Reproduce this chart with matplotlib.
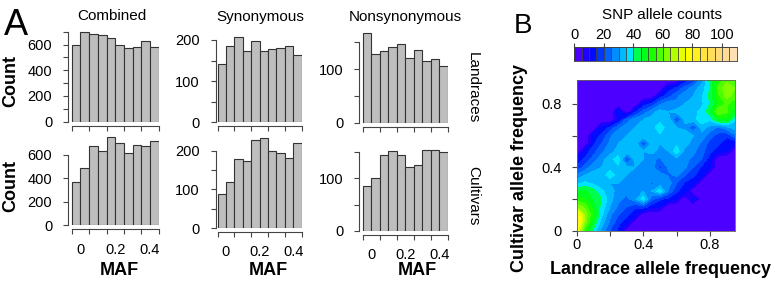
import colorsys
import numpy as np
import matplotlib
matplotlib.use('Agg')
import matplotlib.pyplot as plt

plt.rcParams['font.family'] = ['Liberation Sans', 'DejaVu Sans']

# ---- histogram data (panel A) ----
maf_centers = [-0.025, 0.025, 0.075, 0.125, 0.175, 0.225, 0.275, 0.325, 0.375, 0.425]
combined_land = [600, 696, 680, 673, 647, 595, 571, 582, 629, 584]
syn_land = [141, 185, 206, 172, 198, 173, 177, 181, 185, 164]
nonsyn_land = [167, 129, 134, 141, 146, 121, 136, 115, 119, 105]
combined_cult = [367, 492, 674, 634, 753, 705, 614, 685, 674, 716]
syn_cult = [88, 120, 178, 172, 227, 234, 198, 194, 181, 220]
nonsyn_cult = [85, 101, 144, 151, 144, 121, 125, 154, 153, 149]
col_titles = ['Combined', 'Synonymous', 'Nonsynonymous']
row_titles = ['Landraces', 'Cultivars']
maf_ticks = [0, 0.2, 0.4]
maf_ticklabels = ['0', '0.2', '0.4']

# ---- allele frequency surface (panel B) ----
freq_grid = [0.0, 0.05, 0.1, 0.15, 0.2, 0.25, 0.3, 0.35, 0.4, 0.45,
             0.5, 0.55, 0.6, 0.65, 0.7, 0.75, 0.8, 0.85, 0.9, 0.95]
# rows = cultivar frequency (y), columns = landrace frequency (x)
snp_counts = [
    [78, 52, 38, 28, 20, 14, 0, 0, 0, 0, 0, 0, 0, 0, 0, 0, 0, 0, 0, 0],
    [85, 62, 45, 32, 24, 16, 12, 0, 0, 0, 0, 0, 0, 0, 0, 0, 0, 0, 0, 0],
    [82, 64, 50, 36, 26, 20, 16, 12, 0, 0, 0, 0, 0, 0, 0, 0, 0, 0, 0, 0],
    [64, 58, 48, 38, 30, 24, 20, 16, 18, 12, 10, 0, 0, 0, 0, 0, 0, 0, 0, 0],
    [52, 50, 44, 40, 32, 26, 24, 28, 38, 22, 16, 14, 10, 0, 12, 0, 0, 0, 0, 0],
    [44, 46, 42, 36, 32, 28, 26, 28, 30, 30, 38, 24, 16, 12, 0, 0, 0, 0, 0, 0],
    [34, 36, 34, 32, 30, 30, 28, 26, 28, 24, 26, 28, 20, 14, 12, 0, 0, 0, 0, 0],
    [26, 30, 32, 32, 38, 33, 30, 28, 26, 30, 28, 24, 26, 20, 16, 12, 0, 0, 0, 0],
    [16, 22, 28, 30, 33, 34, 32, 30, 28, 28, 18, 26, 28, 26, 20, 14, 10, 0, 0, 0],
    [12, 16, 22, 28, 33, 38, 18, 32, 30, 26, 24, 30, 28, 26, 24, 20, 12, 0, 0, 0],
    [0, 12, 18, 24, 28, 32, 33, 32, 30, 32, 28, 30, 38, 28, 26, 22, 16, 12, 10, 0],
    [0, 0, 14, 20, 26, 30, 32, 33, 20, 32, 30, 32, 34, 32, 28, 24, 18, 16, 12, 10],
    [0, 0, 12, 16, 24, 28, 30, 32, 34, 32, 34, 33, 32, 34, 30, 28, 22, 18, 16, 24],
    [0, 0, 0, 12, 16, 24, 28, 30, 32, 33, 38, 32, 30, 28, 20, 32, 28, 24, 28, 32],
    [0, 0, 0, 0, 0, 10, 22, 28, 30, 32, 33, 34, 18, 32, 33, 38, 36, 46, 48, 36],
    [0, 0, 0, 0, 0, 14, 0, 14, 22, 28, 32, 30, 32, 33, 34, 36, 44, 60, 56, 46],
    [0, 0, 0, 0, 0, 0, 0, 0, 12, 16, 24, 28, 26, 30, 32, 34, 40, 50, 56, 50],
    [0, 0, 0, 0, 0, 0, 0, 0, 0, 0, 12, 18, 24, 28, 30, 34, 42, 54, 62, 58],
    [0, 0, 0, 0, 0, 0, 0, 0, 0, 0, 0, 12, 16, 22, 28, 32, 40, 56, 64, 60],
    [0, 0, 0, 0, 0, 0, 0, 0, 0, 0, 0, 0, 0, 12, 16, 28, 42, 52, 58, 54],
]
count_levels = list(range(0, 111, 5))
key_ticks = [0, 20, 40, 60, 80, 100]
freq_ticks = [0, 0.2, 0.4, 0.6, 0.8]
freq_ticklabels = ['0', '', '0.4', '', '0.8']

W, H = 780, 289


def px_axes(fig, x0, x1, y0, y1):
    return fig.add_axes([x0 / W, 1 - y1 / H, (x1 - x0) / W, (y1 - y0) / H])


def ftext(fig, x, y, s, **kw):
    fig.text(x / W, 1 - y / H, s, **kw)


def topo_colors(n):
    # same recipe as R's topo.colors()
    j = n // 3
    k = n // 3
    i = n - j - k
    cols = [colorsys.hsv_to_rgb(h, 1, 1) for h in np.linspace(43 / 60, 31 / 60, i)]
    cols += [colorsys.hsv_to_rgb(h, 1, 1) for h in np.linspace(23 / 60, 11 / 60, j)]
    cols += [colorsys.hsv_to_rgb(h, s, 1)
             for h, s in zip(np.linspace(10 / 60, 6 / 60, k), np.linspace(1, 0.3, k))]
    return cols


fig = plt.figure(figsize=(7.8, 2.89), dpi=100)

# column geometry in pixels: y-axis line, first bar edge, last bar edge
cols = [(68.3, 71.7, 158.7), (215.5, 217.5, 301.5), (359.3, 362.7, 448.0)]
# panel: col, row, counts, zero px, px per unit, ylim top, last tick, tick step, labelled ticks
panels = [
    (0, 0, combined_land, 121.7, 0.1286, 705, 700, 100, [0, 200, 400, 600]),
    (1, 0, syn_land, 122.3, 0.4117, 212, 200, 50, [0, 100, 200]),
    (2, 0, nonsyn_land, 122.7, 0.536, 170, 150, 50, [0, 100]),
    (0, 1, combined_cult, 225.3, 0.1172, 770, 600, 200, [0, 200, 400, 600]),
    (1, 1, syn_cult, 228.0, 0.3867, 240, 200, 50, [0, 100, 200]),
    (2, 1, nonsyn_cult, 231.0, 0.527, 160, 150, 50, [0, 100]),
]

axis_col = '#444444'
for c, r, counts, zero, scale, ytop, ymax, step, labelled in panels:
    yax, left, right = cols[c]
    ax = px_axes(fig, yax, right, zero - ytop * scale, zero)
    xl = -0.05 - (left - yax) / (right - left) * 0.5
    ax.set_xlim(xl, 0.45)
    ax.set_ylim(0, ytop)
    ax.bar(maf_centers, counts, width=0.05, color='#bebebe',
           edgecolor='#333333', linewidth=0.8)
    for s in ['top', 'right']:
        ax.spines[s].set_visible(False)
    ax.spines['left'].set_bounds(0, ymax)
    ax.spines['bottom'].set_bounds(-0.05, 0.45)
    ax.spines['bottom'].set_position(('outward', 3))
    for s in ['left', 'bottom']:
        ax.spines[s].set_color(axis_col)
        ax.spines[s].set_linewidth(0.8)
    yt = list(range(0, ymax + 1, step))
    ax.set_yticks(yt)
    ax.set_yticklabels([str(t) if t in labelled else '' for t in yt])
    ax.tick_params(axis='y', length=3.6, width=0.8, pad=8, labelsize=10.5, color=axis_col)
    ax.set_xticks(np.arange(-0.05, 0.46, 0.1))
    ax.set_xticklabels([])
    ax.tick_params(axis='x', which='major', length=3.6, width=0.8, color=axis_col)
    if r == 1:
        ax.set_xticks(maf_ticks, minor=True)
        ax.set_xticklabels(maf_ticklabels, minor=True)
        ax.tick_params(axis='x', which='minor', length=0, pad=9.5, labelsize=10.5)
    else:
        ax.set_xticks([], minor=True)

# panel A text
ftext(fig, 4, 35, 'A', fontsize=26, ha='left', va='baseline')
for x, t in zip([112, 260, 405.8], col_titles):
    ftext(fig, x, 20.5, t, fontsize=11, ha='center', va='baseline')
ftext(fig, 11, 81, 'Count', fontsize=13, fontweight='bold', rotation=90, ha='center', va='center')
ftext(fig, 11, 186, 'Count', fontsize=13, fontweight='bold', rotation=90, ha='center', va='center')
for x in [119, 268, 417]:
    ftext(fig, x, 270.5, 'MAF', fontsize=13, fontweight='bold', ha='center', va='center')
ftext(fig, 473, 87.5, row_titles[0], fontsize=11, rotation=-90, ha='center', va='center')
ftext(fig, 473, 196, row_titles[1], fontsize=11, rotation=-90, ha='center', va='center')

# panel B: filled contour
topo = topo_colors(len(count_levels) - 1)
axh = px_axes(fig, 576.7, 735, 80, 230.7)
axh.contourf(freq_grid, freq_grid, np.array(snp_counts), levels=count_levels, colors=topo)
axh.set_xlim(0, 0.95)
axh.set_ylim(0, 0.95)
axh.set_xticks(freq_ticks)
axh.set_xticklabels(freq_ticklabels)
axh.set_yticks(freq_ticks)
axh.set_yticklabels(freq_ticklabels)
axh.tick_params(axis='x', length=3.6, width=0.8, pad=1.3, labelsize=10.5, color=axis_col)
axh.tick_params(axis='y', length=3.6, width=0.8, pad=7, labelsize=10.5, color=axis_col)
for s in axh.spines.values():
    s.set_linewidth(0.6)
    s.set_color('#666655')

# colour key
axk = px_axes(fig, 574.3, 736.7, 46.7, 60.7)
axk.bar(count_levels[:-1], 1, width=5, align='edge', color=topo,
        edgecolor='#3a3a3a', linewidth=0.5)
axk.set_xlim(count_levels[0], count_levels[-1])
axk.set_ylim(0, 1)
axk.set_yticks([])
axk.xaxis.tick_top()
axk.set_xticks(key_ticks)
axk.set_xticklabels([str(t) for t in key_ticks])
axk.tick_params(axis='x', length=3, width=0.8, pad=0.5, labelsize=10.5, color=axis_col)
for s in axk.spines.values():
    s.set_linewidth(0.6)
    s.set_color('#3a3a3a')

ftext(fig, 514, 33.3, 'B', fontsize=20, ha='left', va='baseline')
ftext(fig, 661.7, 19.3, 'SNP allele counts', fontsize=11, ha='center', va='baseline')
ftext(fig, 520, 168.5, 'Cultivar allele frequency', fontsize=13, fontweight='bold',
      rotation=90, ha='center', va='center')
ftext(fig, 661, 269, 'Landrace allele frequency', fontsize=13, fontweight='bold',
      ha='center', va='center')

fig.savefig('out.png', dpi=100)
